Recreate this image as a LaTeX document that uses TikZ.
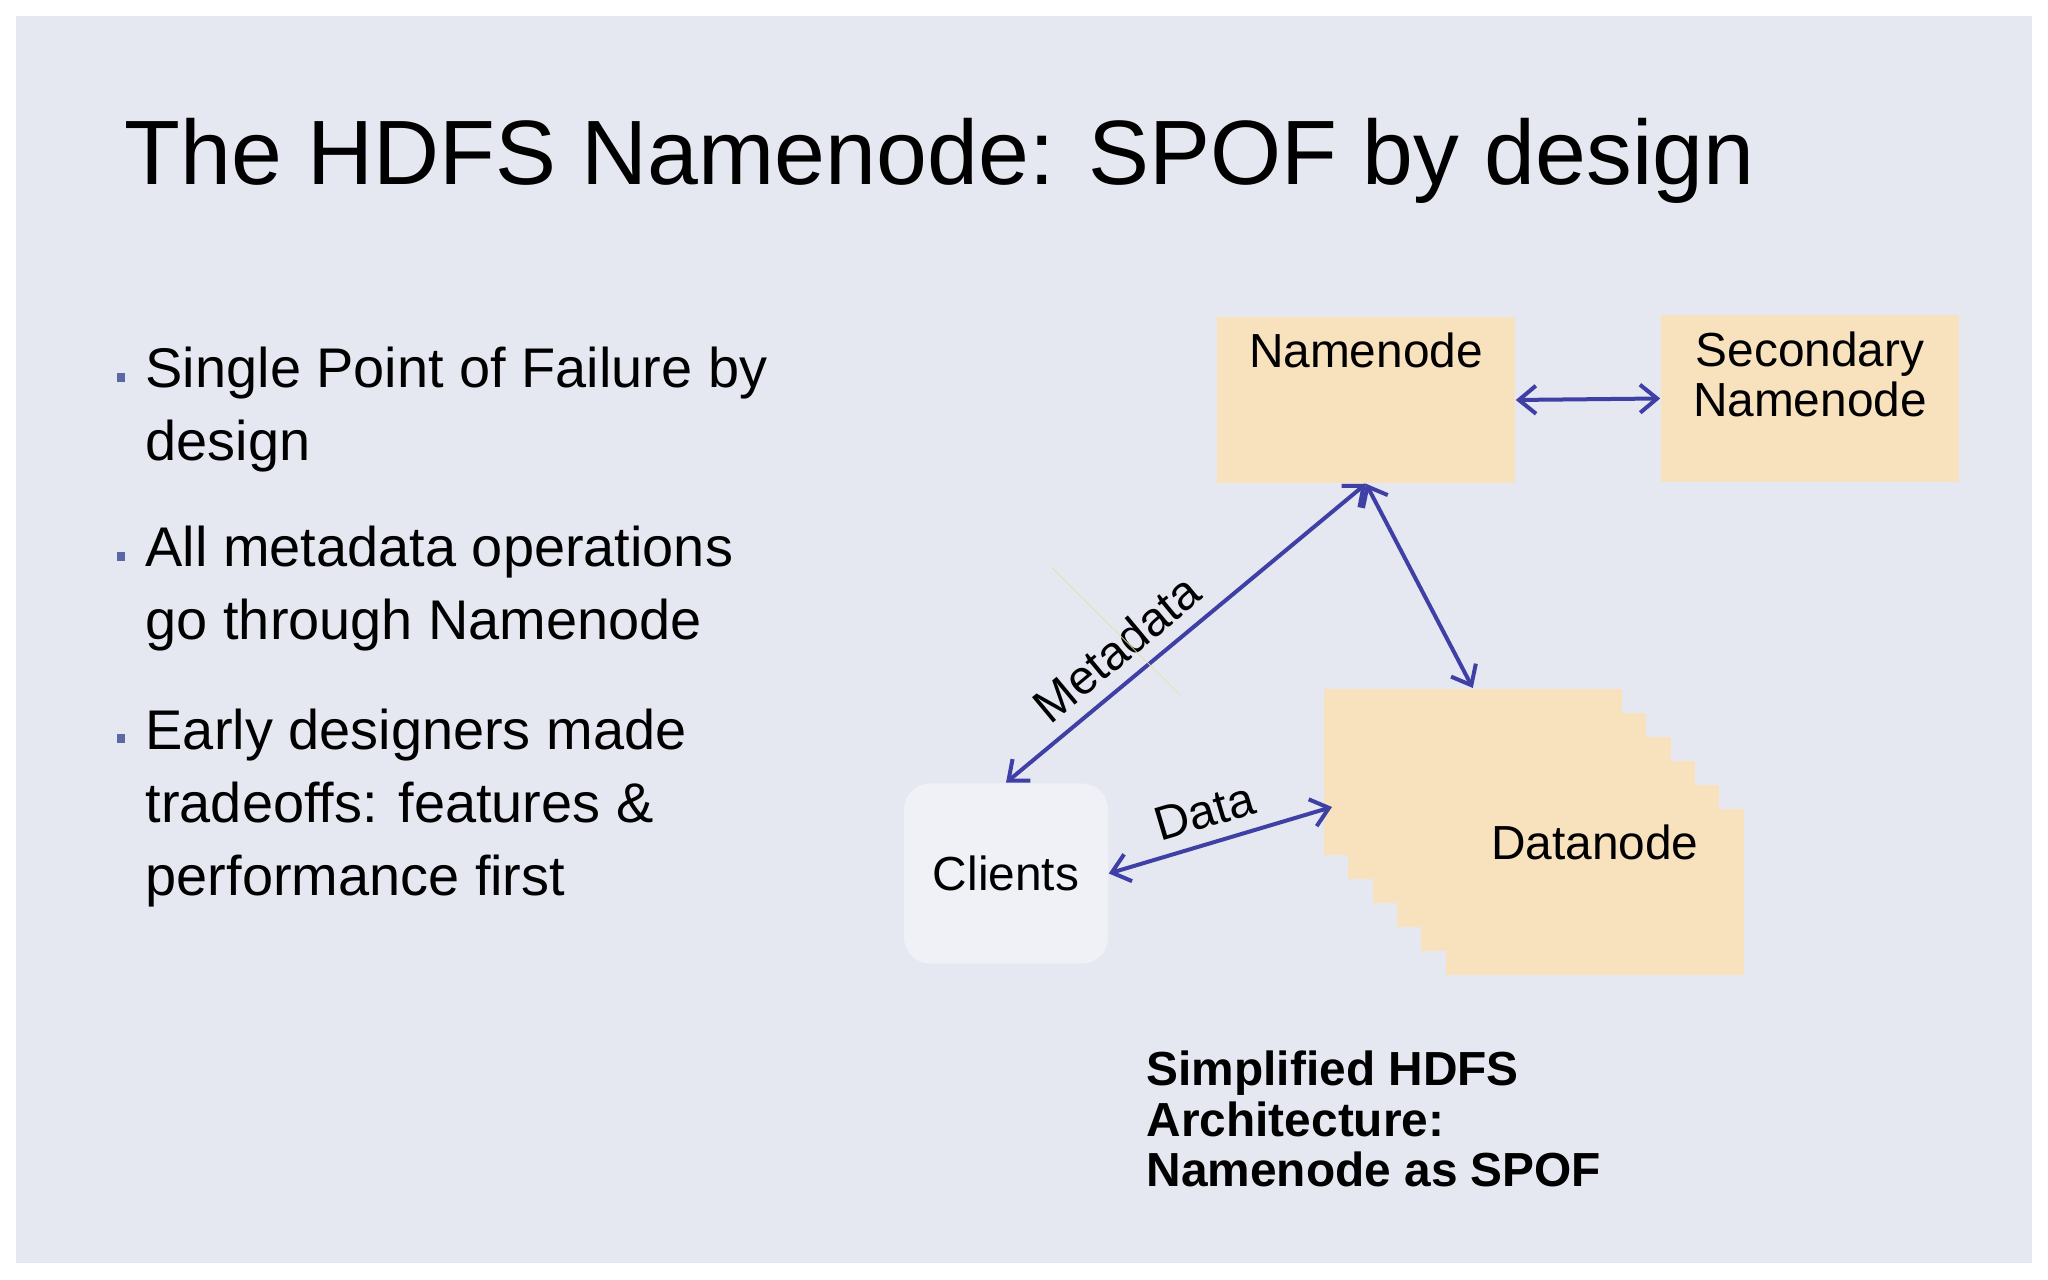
\documentclass[tikz,border=0pt]{standalone}
\usepackage{fontspec}
\setmainfont{Liberation Sans}
\usetikzlibrary{arrows.meta,positioning}

\definecolor{slidebg}{HTML}{E6E8F1}
\definecolor{peach}{HTML}{F8E2BD}
\definecolor{clientbg}{HTML}{EFF1F7}
\definecolor{linkblue}{HTML}{3F40A6}
\definecolor{bulletblue}{HTML}{5A69A6}
\definecolor{stray}{HTML}{E0E2A6}

\begin{document}
\begin{tikzpicture}
[
x=0.01cm, y=-0.01cm,
inner sep=0pt,
NN/.style={rectangle, fill=peach, minimum width=2.98cm, minimum height=1.66cm},
CL/.style={rectangle, rounded corners=0.26cm, fill=clientbg, minimum width=2.04cm, minimum height=1.8cm, font=\fontsize{13.6}{14.2}\selectfont},
boxtext/.style={anchor=north, align=center, font=\fontsize{13.6}{14.2}\selectfont},
link/.style={{Straight Barb[length=1.7mm,width=2.8mm]}-{Straight Barb[length=1.7mm,width=2.8mm]}, line width=0.04cm, linkblue},
linklabel/.style={sloped, above, text=black, inner sep=0.13cm, font=\fontsize{13.6}{14.2}\selectfont},
bullettext/.style={anchor=base west, align=left, font=\fontsize{15.9}{20.85}\selectfont},
bulletsq/.style={rectangle, fill=bulletblue, minimum size=0.085cm},
]
%
\fill [white] (0,0) rectangle (2048,1280);
\fill [slidebg] (16,16) rectangle (2032,1263);

\node [anchor=base west, font=\fontsize{26}{31}\selectfont] (title) at (124,185) {The HDFS Namenode: SPOF by design};

% bullets (base = last line)
\node [bulletsq] (b1) at (121,377.5) {};
\node [bullettext] (t1) at (145,461) {Single Point of Failure by\\design};
\node [bulletsq] (b2) at (121,556.5) {};
\node [bullettext] (t2) at (145,640) {All metadata operations\\go through Namenode};
\node [bulletsq] (b3) at (121,738.5) {};
\node [bullettext] (t3) at (145,896) {Early designers made\\tradeoffs: features \&\\performance first};

% boxes
\node [NN] (nn) at (1366,400) {};
\node [boxtext] (nnt) at ([yshift=-0.16cm]nn.north) {Namenode};
\node [NN] (sn) at (1810,398.5) {};
\node [boxtext] (snt) at ([yshift=-0.16cm]sn.north) {Secondary\\Namenode};
%
\foreach \i in {0,...,5}
  \node [NN, anchor=north west] (dn\i) at (1323+24.4*\i, 688+24*\i) {};
\node [boxtext] (dnt) at ([yshift=-0.16cm]dn5.north) {Datanode};
%
\node [CL] (cl) at (1006,873.5) {Clients};
\coordinate (dtip) at (1332,807);

% links
\draw [link] (nn.east) -- (sn.west);
\draw [link] (cl.north) -- node [linklabel, pos=0.365] (meta) {Metadata} (nn.south);
\draw [link] (nn.south) -- (dn0.north);
\draw [link] (cl.east) -- node [linklabel, pos=0.47] (data) {Data} (dtip);
\draw [stray, very thin] (1052,568) -- (1180,695);

\node [anchor=base west, align=left, font=\bfseries\fontsize{13.6}{14.5}\selectfont] (cap) at (1146,1187) {Simplified HDFS\\Architecture:\\Namenode as SPOF};
%
\end{tikzpicture}
\end{document}
